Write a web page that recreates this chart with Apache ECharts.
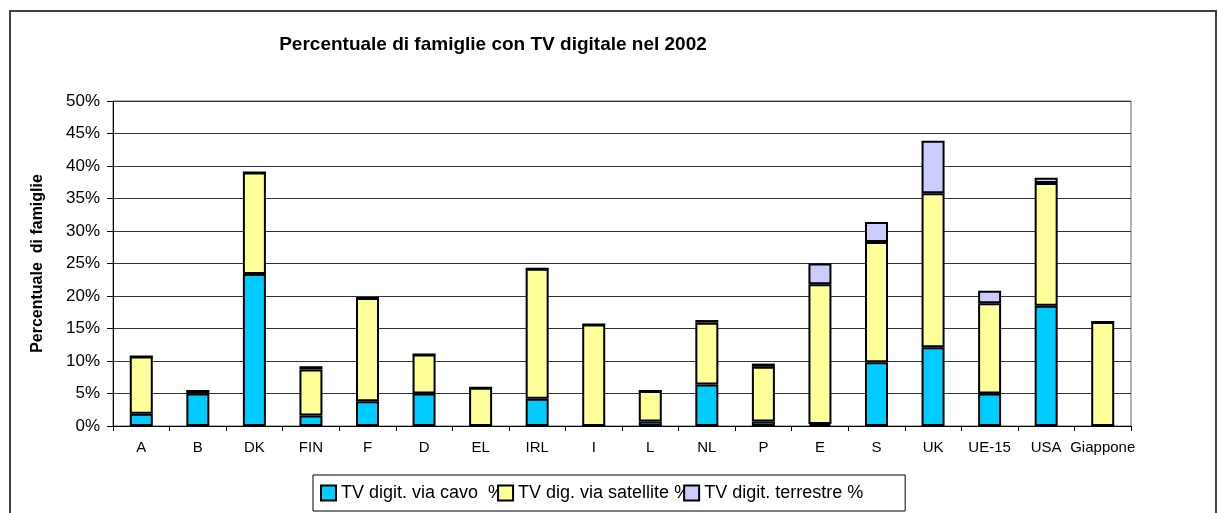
<!DOCTYPE html>
<html>
<head>
<meta charset="utf-8">
<script src="https://cdn.jsdelivr.net/npm/echarts@6/dist/echarts.min.js"></script>
<style>
html,body{margin:0;padding:0;background:#fff;}
#chart{width:1218px;height:513px;}
</style>
</head>
<body>
<div id="chart"></div>
<script>
const categories = ['A','B','DK','FIN','F','D','EL','IRL','I','L','NL','P','E','S','UK','UE-15','USA','Giappone'];
const cavo      = [1.9, 5.0, 23.4, 1.6, 3.8, 5.0, 0, 4.2, 0, 0.7, 6.4, 0.7, 0.3, 9.8, 12.1, 5.0, 18.5, 0];
const satellite = [8.8, 0.4, 15.6, 7.1, 15.9, 6.0, 5.9, 20.0, 15.6, 4.7, 9.5, 8.4, 21.5, 18.5, 23.7, 13.9, 18.9, 16.0];
const terrestre = [0, 0, 0, 0.5, 0, 0, 0, 0, 0, 0, 0.4, 0.5, 3.2, 3.1, 8.1, 1.9, 0.8, 0];
const seriesNames = ['TV digit. via cavo  %', 'TV dig. via satellite %', 'TV digit. terrestre %'];
const yTicks = [0, 5, 10, 15, 20, 25, 30, 35, 40, 45, 50];

const FONT = 'Liberation Sans, Arial, sans-serif';
const colors = ['#00CCFF', '#FFFF99', '#CCCCFF'];
const chart = echarts.init(document.getElementById('chart'), null, {renderer: 'canvas'});

function mk(name, data, color) {
  return {
    name: name, type: 'bar', stack: 'tot', data: data, barWidth: 23,
    itemStyle: {color: color, borderColor: '#000', borderWidth: 2},
    emphasis: {disabled: true}
  };
}

chart.setOption({
  animation: false,
  textStyle: {fontFamily: FONT},
  title: {
    text: 'Percentuale di famiglie con TV digitale nel 2002',
    left: 488, top: 30, textAlign: 'center',
    textStyle: {fontFamily: FONT, fontWeight: 'bold', fontSize: 19, color: '#000'}
  },
  graphic: [{
    type: 'rect', shape: {x: 10, y: 11, width: 1206, height: 520},
    style: {fill: 'none', stroke: '#404040', lineWidth: 2}, silent: true, z: -1
  }],
  grid: {left: 113, right: 87, top: 101, bottom: 87, show: true, borderColor: '#666', borderWidth: 1},
  legend: {
    left: 313, top: 475,
    padding: [9, 42, 9, 7],
    borderColor: '#000', borderWidth: 1,
    itemWidth: 15, itemHeight: 15, itemGap: -7,
    icon: 'rect',
    textStyle: {fontFamily: FONT, fontSize: 18, color: '#000'},
    itemStyle: {borderColor: '#000', borderWidth: 2},
    data: seriesNames
  },
  xAxis: {
    type: 'category', data: categories,
    axisLine: {lineStyle: {color: '#000', width: 1}},
    axisTick: {show: true, length: 5, lineStyle: {color: '#000'}},
    axisLabel: {fontFamily: FONT, fontSize: 15, color: '#000', margin: 14, interval: 0}
  },
  yAxis: {
    type: 'value', min: yTicks[0], max: yTicks[yTicks.length - 1], interval: 5,
    name: 'Percentuale  di famiglie', nameLocation: 'middle', nameGap: 67,
    nameTextStyle: {fontFamily: FONT, fontWeight: 'bold', fontSize: 16, color: '#000'},
    axisLine: {show: true, lineStyle: {color: '#000', width: 1}},
    axisTick: {show: true, length: 6, lineStyle: {color: '#000'}},
    axisLabel: {fontFamily: FONT, fontSize: 17, color: '#000', margin: 13, formatter: '{value}%'},
    splitLine: {lineStyle: {color: '#333', width: 1}}
  },
  series: [
    mk(seriesNames[0], cavo, colors[0]),
    mk(seriesNames[1], satellite, colors[1]),
    mk(seriesNames[2], terrestre, colors[2])
  ]
});
</script>
</body>
</html>
